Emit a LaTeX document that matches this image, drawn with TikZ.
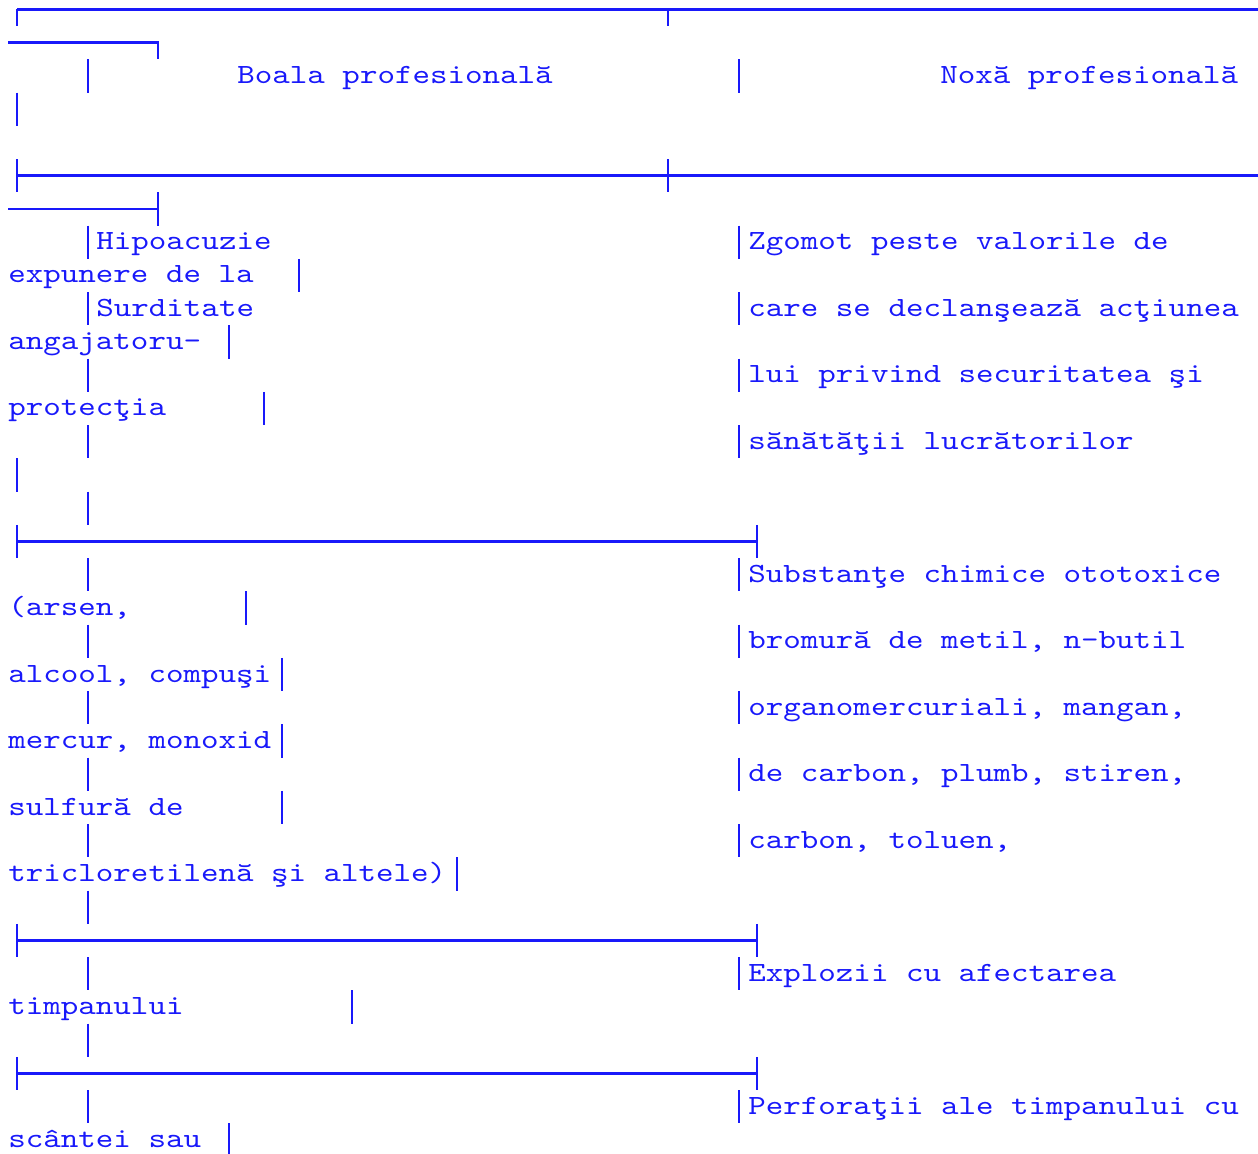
\documentclass[tikz,border=0pt]{standalone}
\usepackage{fontspec}
\newfontfamily\cour[FakeStretch=1.2]{lmmono10-regular.otf}
\definecolor{tb}{RGB}{25,25,250}
\newcommand\vbar[2]{\draw[bx] (#1,{9.5+(#2-1)*33.25-16.625}) -- (#1,{9.5+(#2-1)*33.25+16.625});}
\newcommand\tline[4]{\node[txt] (#1) at (#2,{17+(#3-1)*33.25}) {#4};}
\begin{document}
\begin{tikzpicture}[x=0.5pt,y=-0.5pt,
  txt/.style={font=\cour\fontsize{13.9}{16}\selectfont, text=tb, inner sep=0pt, anchor=base west},
  bx/.style={draw=tb, line width=1.3pt}]
\useasboundingbox (0,0) rectangle (1258,1154);
% ---- header borders ----
\coordinate (tl) at (17,9.5);
\coordinate (tr) at (1258,9.5);
\draw[bx] (tl) -- (tr);
\draw[bx] (17,9.5) -- (17,26.1);
\draw[bx] (668,9.5) -- (668,26.1);
\coordinate (a1) at (8,42.75);
\coordinate (a2) at (158,42.75);
\draw[bx] (a1) -- (a2) -- (158,59.4);
\vbar{88}{3}
\vbar{739}{3}
\vbar{17}{4}
\coordinate (m1) at (17,175.75);
\coordinate (m2) at (1258,175.75);
\draw[bx] (m1) -- (m2);
\vbar{17}{6}
\vbar{668}{6}
\coordinate (n1) at (8,209);
\coordinate (n2) at (158,209);
\draw[bx] (n1) -- (n2);
\vbar{158}{7}
% ---- header texts ----
\tline{h1}{237}{3}{Boala profesională}
\tline{h2}{940}{3}{Noxă profesională}
% ---- row 1 ----
\vbar{88}{8}\vbar{739}{8}
\tline{r1a}{96}{8}{Hipoacuzie}
\tline{r1b}{748}{8}{Zgomot peste valorile de}
\tline{r1c}{8}{9}{expunere de la}
\vbar{299}{9}
\vbar{88}{10}\vbar{739}{10}
\tline{r1d}{96}{10}{Surditate}
\tline{r1e}{748}{10}{care se declanşează acţiunea}
\tline{r1f}{8}{11}{angajatoru-}
\vbar{229}{11}
\vbar{88}{12}\vbar{739}{12}
\tline{r1g}{748}{12}{lui privind securitatea şi}
\tline{r1h}{8}{13}{protecţia}
\vbar{264}{13}
\vbar{88}{14}\vbar{739}{14}
\tline{r1i}{748}{14}{sănătăţii lucrătorilor}
\vbar{17}{15}
\vbar{88}{16}
% ---- separator ----
\coordinate (s1a) at (17,541.5);
\coordinate (s1b) at (757,541.5);
\draw[bx] (s1a) -- (s1b);
\vbar{17}{17}\vbar{757}{17}
% ---- row 2 ----
\vbar{88}{18}\vbar{739}{18}
\tline{r2a}{748}{18}{Substanţe chimice ototoxice}
\tline{r2b}{8}{19}{(arsen,}
\vbar{246}{19}
\vbar{88}{20}\vbar{739}{20}
\tline{r2c}{748}{20}{bromură de metil, n-butil}
\tline{r2d}{8}{21}{alcool, compuşi}
\vbar{282}{21}
\vbar{88}{22}\vbar{739}{22}
\tline{r2e}{748}{22}{organomercuriali, mangan,}
\tline{r2f}{8}{23}{mercur, monoxid}
\vbar{282}{23}
\vbar{88}{24}\vbar{739}{24}
\tline{r2g}{748}{24}{de carbon, plumb, stiren,}
\tline{r2h}{8}{25}{sulfură de}
\vbar{282}{25}
\vbar{88}{26}\vbar{739}{26}
\tline{r2i}{748}{26}{carbon, toluen,}
\tline{r2j}{8}{27}{tricloretilenă şi altele)}
\vbar{457}{27}
\vbar{88}{28}
% ---- separator ----
\coordinate (s2a) at (17,940.5);
\coordinate (s2b) at (757,940.5);
\draw[bx] (s2a) -- (s2b);
\vbar{17}{29}\vbar{757}{29}
% ---- row 3 ----
\vbar{88}{30}\vbar{739}{30}
\tline{r3a}{748}{30}{Explozii cu afectarea}
\tline{r3b}{8}{31}{timpanului}
\vbar{352}{31}
\vbar{88}{32}
% ---- separator ----
\coordinate (s3a) at (17,1073.5);
\coordinate (s3b) at (757,1073.5);
\draw[bx] (s3a) -- (s3b);
\vbar{17}{33}\vbar{757}{33}
% ---- row 4 ----
\vbar{88}{34}\vbar{739}{34}
\tline{r4a}{748}{34}{Perforaţii ale timpanului cu}
\tline{r4b}{8}{35}{scântei sau}
\vbar{229}{35}
\end{tikzpicture}
\end{document}
